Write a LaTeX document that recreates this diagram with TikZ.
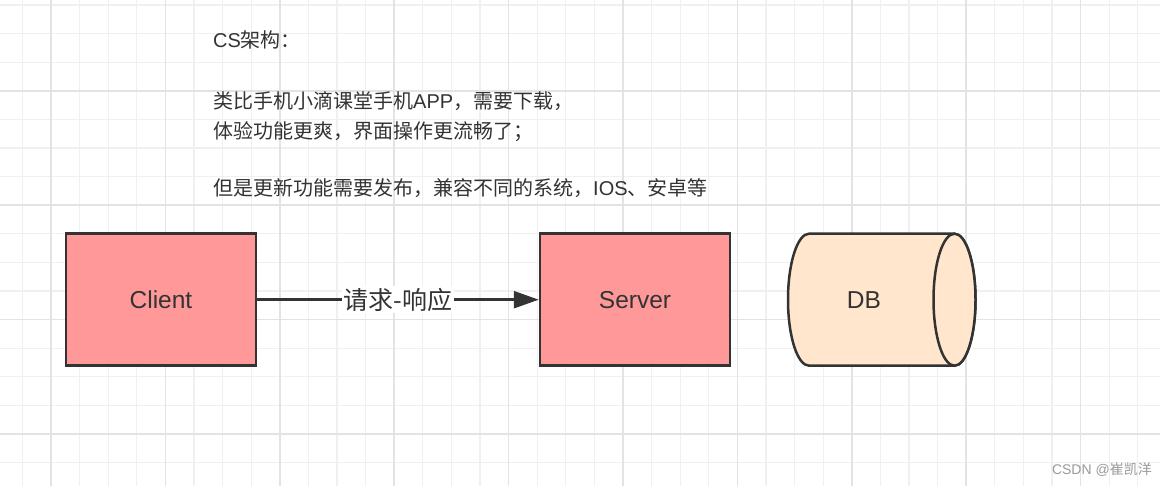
\documentclass[tikz,border=0pt]{standalone}
\usepackage{fontspec}
\setmainfont{Liberation Sans}
\newfontfamily\cjk{Noto Sans CJK SC}
\usetikzlibrary{arrows.meta}
\definecolor{boxred}{HTML}{FF9999}
\definecolor{dbfill}{HTML}{FFE6CC}
\definecolor{inkc}{HTML}{333333}
\definecolor{gridminor}{HTML}{F0F0F0}
\definecolor{gridmajor}{HTML}{E3E3E3}
\definecolor{markgray}{HTML}{9A9A9A}
\begin{document}
\begin{tikzpicture}[x=1pt,y=-1pt,
  minorline/.style={draw=gridminor, line width=1.2pt},
  majorline/.style={draw=gridmajor, line width=1.5pt},
  boxnode/.style={draw=inkc, line width=2.5pt, fill=boxred, minimum width=190pt, minimum height=132pt, inner sep=0pt, font=\fontsize{24.5}{28}\selectfont, text=inkc},
  dbshape/.style={draw=inkc, line width=2.5pt, fill=dbfill},
  dbtext/.style={inner sep=0pt, font=\fontsize{24.5}{28}\selectfont, text=inkc},
  notetext/.style={anchor=west, inner sep=0pt, text=inkc, font=\fontsize{20}{24}\selectfont},
  linklabel/.style={fill=white, inner sep=2pt, text=inkc, font=\cjk\fontsize{25}{28}\selectfont},
  linkarrow/.style={draw=inkc, line width=2.5pt, -{Triangle[length=25pt,width=17pt]}},
  marktext/.style={anchor=east, inner sep=0pt, text=markgray, font=\fontsize{14}{16}\selectfont}
]
\useasboundingbox (0,0) rectangle (1168,486);
\fill[white] (0,0) rectangle (1168,486);
% grid
\foreach \i in {0,...,39} {\draw[minorline] ({22.4+28.6*\i},0) -- ({22.4+28.6*\i},486);}
\foreach \j in {0,...,16} {\draw[minorline] (0,{5+28.6*\j}) -- (1160,{5+28.6*\j});}
\foreach \i in {0,...,9} {\draw[majorline] ({51+114.4*\i},0) -- ({51+114.4*\i},486);}
\foreach \j in {0,...,3} {\draw[majorline] (0,{90.8+114.4*\j}) -- (1160,{90.8+114.4*\j});}
% notes
\node[notetext] (t1) at (213,40) {CS{\cjk 架构：}};
\node[notetext] (t2) at (213,101.5) {{\cjk 类比手机小滴课堂手机}APP{\cjk ，需要下载，}};
\node[notetext] (t3) at (213,131.5) {{\cjk 体验功能更爽，界面操作更流畅了；}};
\node[notetext] (t4) at (213,188.5) {{\cjk 但是更新功能需要发布，兼容不同的系统，}IOS{\cjk 、安卓等}};
% nodes
\node[boxnode] (client) at (161,299.7) {Client};
\node[boxnode] (server) at (635,299.7) {Server};
% database cylinder
\path[dbshape] (954.5,233.7) -- (809,233.7)
  arc[start angle=-90, end angle=-270, x radius=21, y radius=66]
  -- (954.5,365.7)
  arc[start angle=90, end angle=-90, x radius=21, y radius=66] -- cycle;
\path[dbshape] (954.5,299.7) ellipse [x radius=21, y radius=66];
\node[dbtext] (db) at (864,300) {DB};
% connector
\draw[linkarrow] (client) -- node[linklabel] (lbl) {请求-响应} (server);
% watermark
\node[marktext] (wm) at (1152,470) {CSDN @{\cjk 崔凯洋}};
\end{tikzpicture}
\end{document}
